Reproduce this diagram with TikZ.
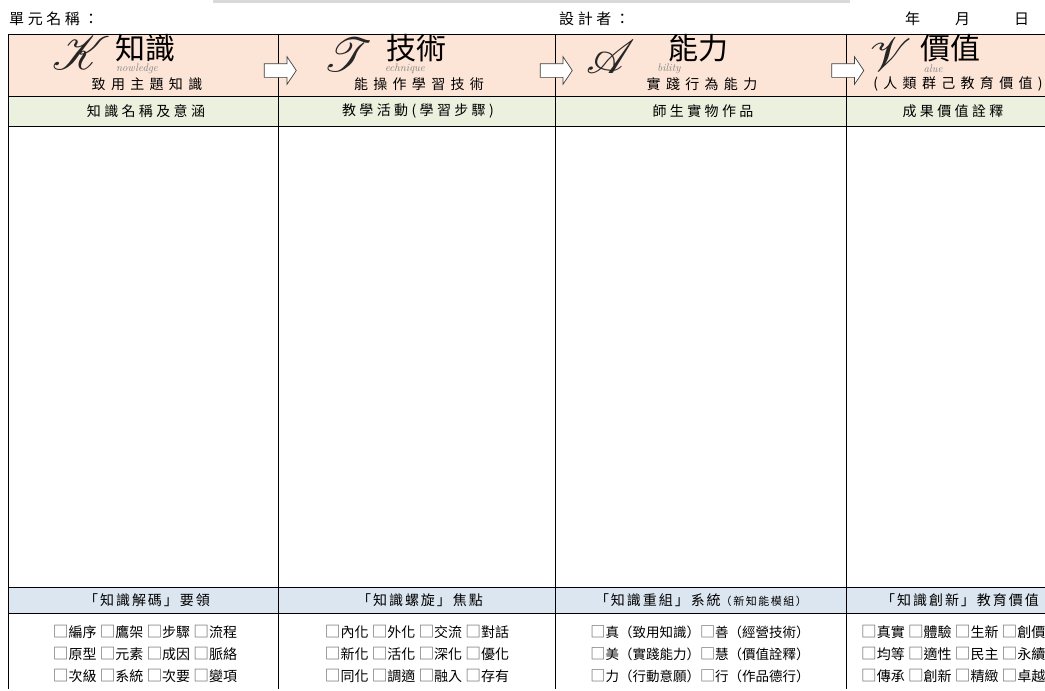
\documentclass[tikz,border=0pt]{standalone}
\usepackage{fontspec}
\usepackage{mathrsfs}
\usepackage{xcolor}
\usetikzlibrary{shapes.arrows,positioning}
\newfontfamily\cjk{Noto Sans CJK TC}
\newfontfamily\cjkwide{Noto Sans CJK TC}[LetterSpace=38]
\newfontfamily\cjkmid{Noto Sans CJK TC}[LetterSpace=24]
\newfontfamily\cjknarrow{Noto Sans CJK TC}[LetterSpace=14]
\definecolor{headpeach}{RGB}{252,228,214}
\definecolor{rowgreen}{RGB}{235,241,222}
\definecolor{rowblue}{RGB}{220,230,241}
\definecolor{bargray}{RGB}{217,217,217}
\definecolor{boxgray}{RGB}{90,90,90}
\newcommand{\chk}{\textcolor{boxgray}{\scalebox{1.12}{□}}}
\newcommand{\bigscript}[1]{\scalebox{1.9}{$\mathscr{#1}$}}
\tikzset{
    grid/.style={draw=black, line width=0.8pt},
    toplabel/.style={font=\cjkmid\fontsize{15}{17}\selectfont, inner sep=0pt},
    bigword/.style={font=\cjk\fontsize{30}{32}\selectfont, inner sep=0pt},
    scriptletter/.style={font=\fontsize{24}{24}\selectfont, text=black!85, inner sep=0pt},
    tailword/.style={font=\itshape\fontsize{11}{11}\selectfont, text=gray, inner sep=0pt},
    subtitle/.style={font=\cjkwide\fontsize{14}{16}\selectfont, inner sep=0pt},
    rowlabel/.style={font=\cjkmid\fontsize{14}{16}\selectfont, inner sep=0pt},
    keylabel/.style={font=\cjknarrow\fontsize{14}{16}\selectfont, inner sep=0pt},
    checkrow/.style={font=\cjk\fontsize{14}{16}\selectfont, inner sep=0pt},
    flowarrow/.style={
        single arrow,
        draw=black!75,
        fill=white,
        line width=0.7pt,
        minimum height=32pt,
        inner xsep=0pt,
        inner ysep=6.5pt,
        single arrow head extend=7pt,
        single arrow tip angle=112
    }
}

\begin{document}
\begin{tikzpicture}[x=1pt,y=-1pt]
  \useasboundingbox (0,0) rectangle (1045,691);
  \clip (0,0) rectangle (1045,691);

  % Gray strip at the top
  \fill[bargray] (213,0) rectangle (850,3);

  % Form heading
  \node[toplabel, anchor=west] (unit) at (9,19) {單元名稱：};
  \node[toplabel, anchor=west] (designer) at (559,19) {設計者：};
  \node[toplabel, anchor=west] (date) at (905,19) {年\hspace{35pt}月\hspace{44pt}日};

  % Coloured bands
  \fill[headpeach] (8,34) rectangle (1045,96);
  \fill[rowgreen] (8,96) rectangle (1045,126);
  \fill[rowblue] (8,587) rectangle (1045,613);

  % Table rules
  \draw[grid] (8,34) -- (1045,34);
  \draw[grid] (8,96) -- (1045,96);
  \draw[grid] (8,126) -- (1045,126);
  \draw[grid] (8,587) -- (1045,587);
  \draw[grid] (8,613) -- (1045,613);
  \draw[grid] (8,34) -- (8,689);
  \draw[grid] (278,34) -- (278,689);
  \draw[grid] (555,34) -- (555,689);
  \draw[grid] (846,34) -- (846,689);

  % Arrows between the columns
  \node[flowarrow] (arrKT) at (278,70.5) {};
  \node[flowarrow] (arrTA) at (554,70.5) {};
  \node[flowarrow] (arrAV) at (845.5,70.5) {};

  % K: knowledge
  \node[scriptletter] (letK) at (81,53) {\bigscript{K}};
  \node[bigword] (wordK) at (145,48) {知識};
  \node[tailword] (tailK) at (137,69) {nowledge};
  \node[subtitle] (subK) at (147,84) {致用主題知識};

  % T: technique
  \node[scriptletter] (letT) at (348,55) {\bigscript{T}};
  \node[bigword] (wordT) at (416,48) {技術};
  \node[tailword] (tailT) at (405,69) {echnique};
  \node[subtitle] (subT) at (419,84) {能操作學習技術};

  % A: ability
  \node[scriptletter] (letA) at (611,57) {\bigscript{A}};
  \node[bigword] (wordA) at (698,48) {能力};
  \node[tailword] (tailA) at (669,69) {bility};
  \node[subtitle] (subA) at (702,84) {實踐行為能力};

  % V: value
  \node[scriptletter] (letV) at (891,55) {\bigscript{V}};
  \node[bigword] (wordV) at (950,48) {價值};
  \node[tailword] (tailV) at (933,69) {alue};
  \node[subtitle] (subV) at (958,84) {(人類群己教育價值)};

  % Column headings
  \node[rowlabel] (headK) at (146,111) {知識名稱及意涵};
  \node[rowlabel] (headT) at (418,111) {教學活動(學習步驟)};
  \node[rowlabel] (headA) at (703,111) {師生實物作品};
  \node[rowlabel] (headV) at (953,111) {成果價值詮釋};

  % Key rows
  \node[keylabel] (keyK) at (147,600) {「知識解碼」要領};
  \node[keylabel] (keyT) at (420,600) {「知識螺旋」焦點};
  \node[keylabel] (keyA) at (701,600) {「知識重組」系統{\fontsize{11}{12}\selectfont（新知能模組）}};
  \node[keylabel] (keyV) at (960,600) {「知識創新」教育價值};

  % Check lists
  \node[checkrow] (chkK1) at (145,632) {\chk{}編序 \chk{}鷹架 \chk{}步驟 \chk{}流程};
  \node[checkrow] (chkK2) at (145,654) {\chk{}原型 \chk{}元素 \chk{}成因 \chk{}脈絡};
  \node[checkrow] (chkK3) at (145,676) {\chk{}次級 \chk{}系統 \chk{}次要 \chk{}變項};
  \node[checkrow] (chkT1) at (417,632) {\chk{}內化 \chk{}外化 \chk{}交流 \chk{}對話};
  \node[checkrow] (chkT2) at (417,654) {\chk{}新化 \chk{}活化 \chk{}深化 \chk{}優化};
  \node[checkrow] (chkT3) at (417,676) {\chk{}同化 \chk{}調適 \chk{}融入 \chk{}存有};
  \node[checkrow, font=\cjk\fontsize{13.5}{16}\selectfont] (chkA1) at (700,632) {\chk{}真（致用知識）\chk{}善（經營技術）};
  \node[checkrow, font=\cjk\fontsize{13.5}{16}\selectfont] (chkA2) at (700,654) {\chk{}美（實踐能力）\chk{}慧（價值詮釋）};
  \node[checkrow, font=\cjk\fontsize{13.5}{16}\selectfont] (chkA3) at (700,676) {\chk{}力（行動意願）\chk{}行（作品德行）};
  \node[checkrow, anchor=west] (chkV1) at (861,632) {\chk{}真實 \chk{}體驗 \chk{}生新 \chk{}創價};
  \node[checkrow, anchor=west] (chkV2) at (861,654) {\chk{}均等 \chk{}適性 \chk{}民主 \chk{}永續};
  \node[checkrow, anchor=west] (chkV3) at (861,676) {\chk{}傳承 \chk{}創新 \chk{}精緻 \chk{}卓越};
\end{tikzpicture}
\end{document}
